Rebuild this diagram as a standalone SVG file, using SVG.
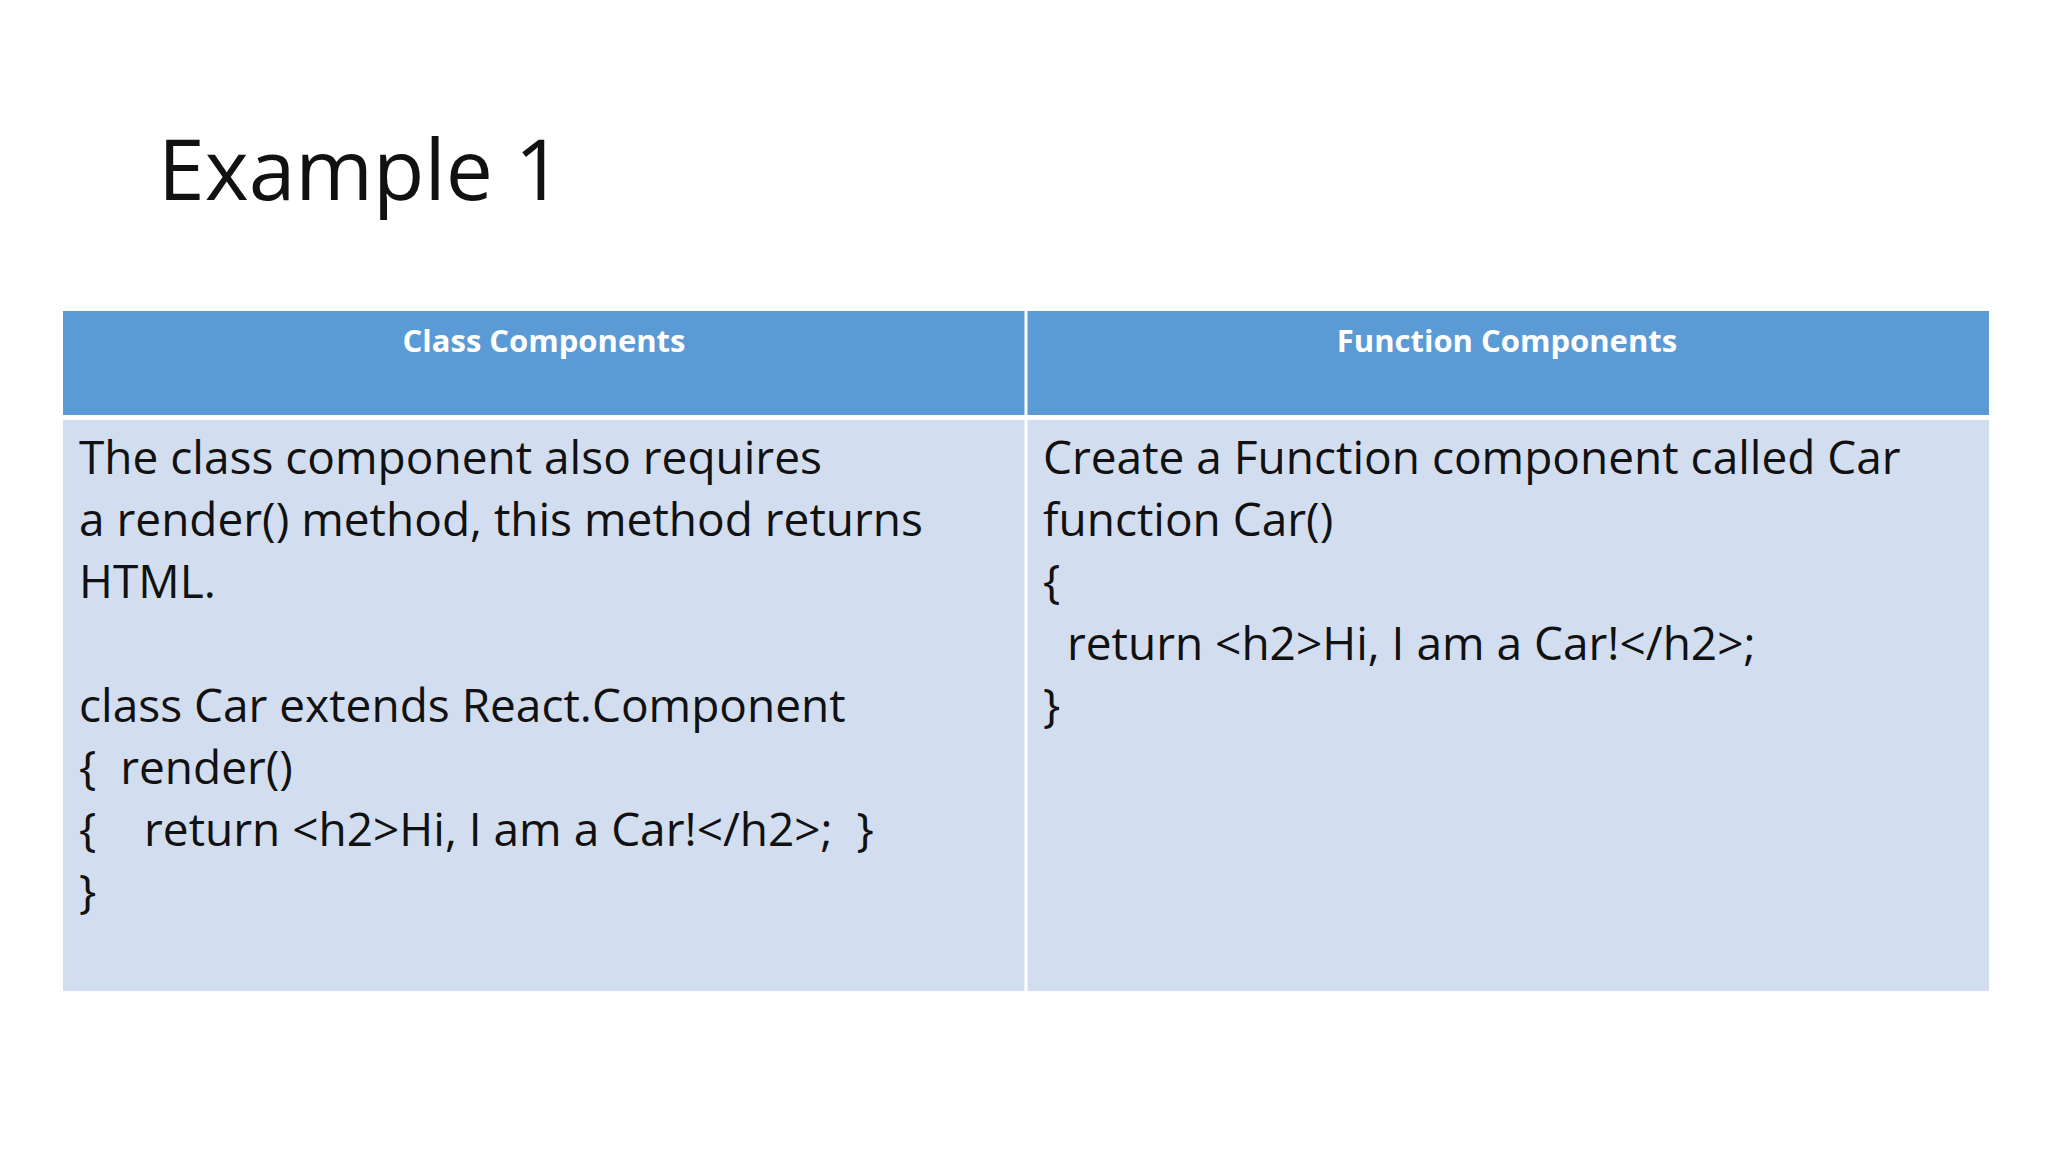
<svg xmlns="http://www.w3.org/2000/svg" width="2048" height="1152" viewBox="0 0 2048 1152">
<style>
.t{font-family:"Open Sans","Noto Sans",sans-serif;font-size:46px;fill:#111}
.h{font-family:"Open Sans","Noto Sans",sans-serif;font-size:31px;font-weight:bold;fill:#fff;text-anchor:middle}
</style>
<rect width="2048" height="1152" fill="#fff"/>
<text x="158" y="200" font-family="Open Sans, Noto Sans, sans-serif" font-size="84" fill="#111">Example 1</text>
<g id="table">
<rect x="63" y="311" width="1926" height="104" fill="#5b9bd5"/>
<rect x="63" y="420" width="1926" height="571" fill="#d2deef"/>
<line x1="1026" y1="311" x2="1026" y2="991" stroke="#fff" stroke-width="3"/>
</g>
<g id="h1"><text class="h" x="544" y="352">Class Components</text></g>
<g id="h2"><text class="h" x="1507" y="352">Function Components</text></g>
<g id="c1">
<text class="t" x="79" y="474">The class component also requires</text>
<text class="t" x="79" y="536">a render() method, this method returns</text>
<text class="t" x="79" y="598">HTML.</text>
<text class="t" x="79" y="722">class Car extends React.Component</text>
<text class="t" x="79" y="784" xml:space="preserve">{  render()</text>
<text class="t" x="79" y="846" xml:space="preserve">{    return &lt;h2&gt;Hi, I am a Car!&lt;/h2&gt;;  }</text>
<text class="t" x="79" y="908">}</text>
</g>
<g id="c2">
<text class="t" x="1043" y="474">Create a Function component called Car</text>
<text class="t" x="1043" y="536">function Car()</text>
<text class="t" x="1043" y="598">{</text>
<text class="t" x="1043" y="660" xml:space="preserve">  return &lt;h2&gt;Hi, I am a Car!&lt;/h2&gt;;</text>
<text class="t" x="1043" y="722">}</text>
</g>
</svg>
